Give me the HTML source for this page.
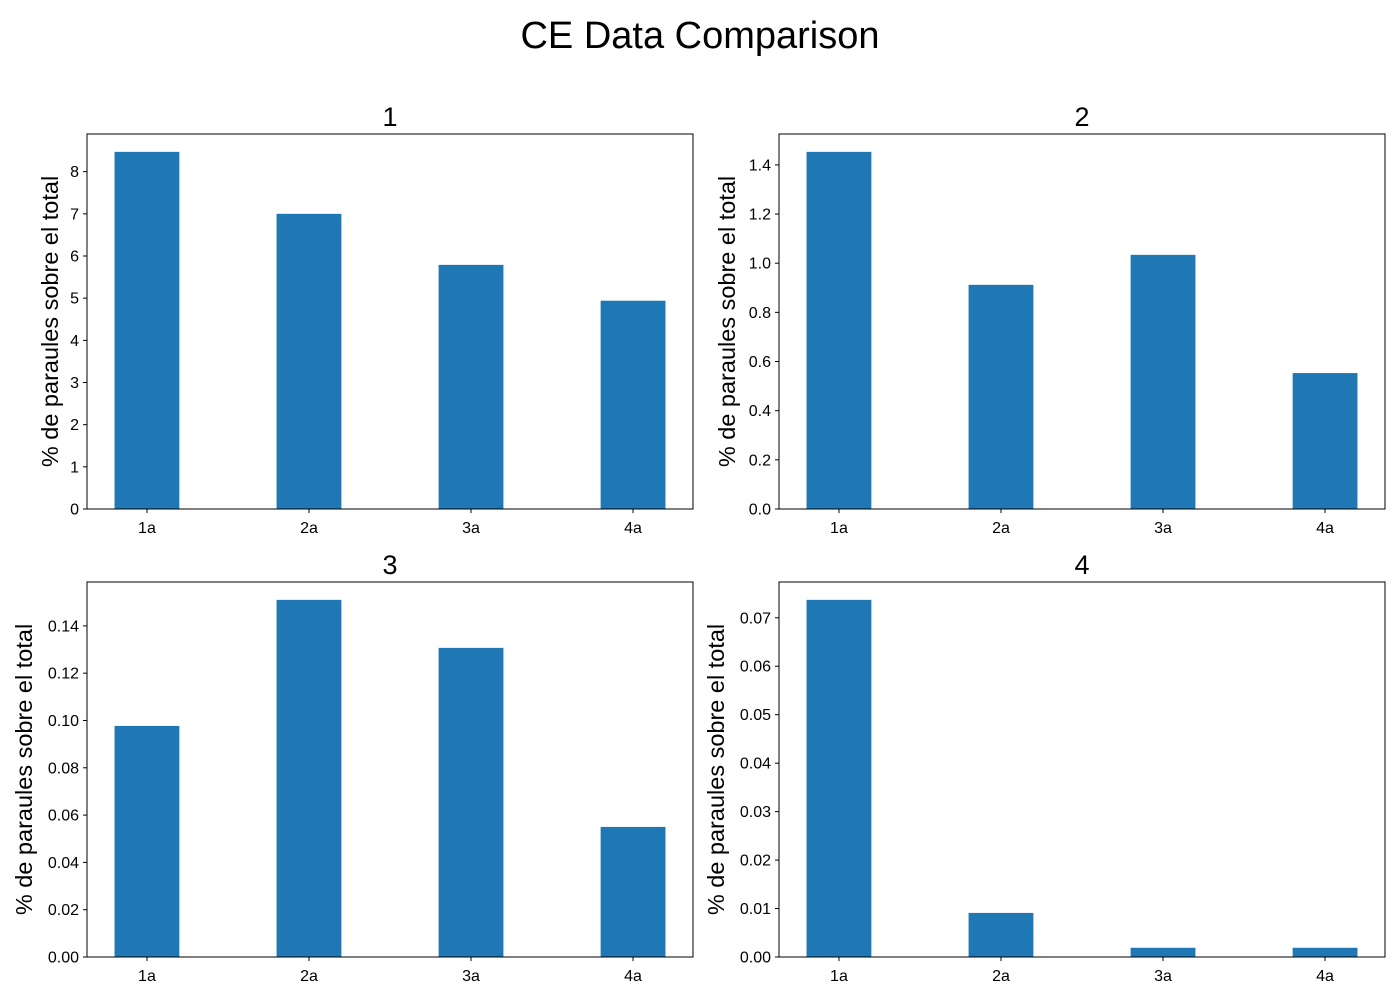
<!DOCTYPE html>
<html><head><meta charset="utf-8"><style>
body{margin:0;background:#fff;}
svg{display:block;font-family:"Liberation Sans","DejaVu Sans",sans-serif;}
</style></head><body>
<svg id="fig" width="1400" height="1000">
<text x="700" y="48" text-anchor="middle" font-size="38" fill="#000">CE Data Comparison</text>
</svg>
<script>
const categories = ["1a","2a","3a","4a"];
const values1 = [8.47, 7.0, 5.79, 4.94];
const values2 = [1.453, 0.912, 1.034, 0.553];
const values3 = [0.0977, 0.151, 0.1307, 0.055];
const values4 = [0.0737, 0.0091, 0.0019, 0.0019];
const ticks1 = [0,1,2,3,4,5,6,7,8];
const ticks2 = [0,0.2,0.4,0.6,0.8,1.0,1.2,1.4];
const ticks3 = [0,0.02,0.04,0.06,0.08,0.10,0.12,0.14];
const ticks4 = [0,0.01,0.02,0.03,0.04,0.05,0.06,0.07];
const titles = ["1","2","3","4"];

const NS="http://www.w3.org/2000/svg";
const svg=document.getElementById('fig');
function mk(tag,attrs,parent){const e=document.createElementNS(NS,tag);for(const k in attrs)e.setAttribute(k,attrs[k]);(parent||svg).appendChild(e);return e;}

const panels=[
 {x:87,y:134,vals:values1,ticks:ticks1,dec:0,title:titles[0],lx:50},
 {x:779,y:134,vals:values2,ticks:ticks2,dec:1,title:titles[1],lx:727},
 {x:87,y:582,vals:values3,ticks:ticks3,dec:2,title:titles[2],lx:24},
 {x:779,y:582,vals:values4,ticks:ticks4,dec:2,title:titles[3],lx:716}
];
const W=606,H=375;
panels.forEach((p,i)=>{
  const g=mk('g',{});
  
  
  const ymax=Math.max(...p.vals)*1.05;
  const xmin=-0.37,xmax=3.37;
  const xs=v=>p.x+(v-xmin)/(xmax-xmin)*W;
  const ys=v=>p.y+H-v/ymax*H;
  p.vals.forEach((v,j)=>{
    const r=mk('rect',{x:xs(j-0.2),y:ys(v),width:xs(j+0.2)-xs(j-0.2),height:ys(0)-ys(v),fill:'#1f77b4'},g);
    
    
  });
  const fr=mk('rect',{x:p.x,y:p.y,width:W,height:H,fill:'none',stroke:'#000','stroke-width':1},g);
  
  
  p.ticks.forEach(t=>{
    const y=ys(t);
    mk('line',{x1:p.x-4,x2:p.x,y1:y,y2:y,stroke:'#000'},g);
    const tx=mk('text',{x:p.x-8,y:y+5.5,'text-anchor':'end','font-size':16},g);
    tx.textContent=t.toFixed(p.dec);
    
    
  });
  categories.forEach((c,j)=>{
    const x=xs(j);
    mk('line',{x1:x,x2:x,y1:p.y+H,y2:p.y+H+4,stroke:'#000'},g);
    const tx=mk('text',{x:x,y:p.y+H+24,'text-anchor':'middle','font-size':16},g);
    tx.textContent=c;
    
    
  });
  const tt=mk('text',{x:p.x+W/2,y:p.y-8,'text-anchor':'middle','font-size':27},g);
  tt.textContent=p.title;
  
  
  const yl=mk('text',{x:p.lx,y:p.y+H/2,'text-anchor':'middle','font-size':23.5,transform:`rotate(-90 ${p.lx} ${p.y+H/2})`,dy:'0.35em'},g);
  yl.textContent='% de paraules sobre el total';
  
  
});
</script>
</body></html>
